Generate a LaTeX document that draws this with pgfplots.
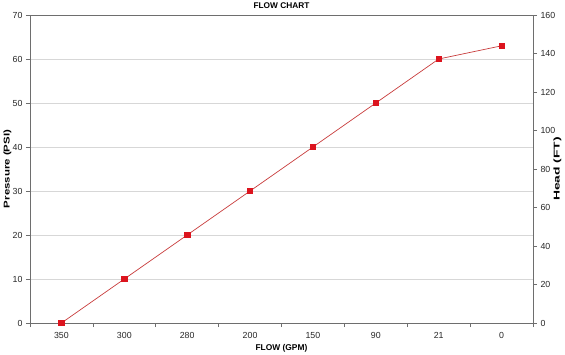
\documentclass[border=0pt]{standalone}
\usepackage{graphicx}
\usepackage{pgfplots}
\pgfplotsset{compat=1.18}
\usepackage{fontspec}
\setmainfont{Liberation Sans}
\definecolor{axisgray}{RGB}{110,110,110}
\definecolor{gridgray}{RGB}{215,215,215}
\definecolor{linered}{RGB}{200,60,60}
\definecolor{markred}{RGB}{220,20,30}
\begin{document}
\begin{tikzpicture}
\begin{axis}[
  at={(0,0)}, anchor=south west,
  scale only axis, width=503pt, height=308pt,
  xmin=-0.5, xmax=7.5, ymin=0, ymax=70,
  axis x line*=bottom, axis y line*=left,
  axis line style={axisgray, line width=0.8pt},
  xtick={0,...,7},
  xticklabels={350,300,280,200,150,90,21,0},
  major x tick style={draw=none},
  minor xtick={-0.5,0.5,...,7.5},
  minor x tick style={axisgray, line width=0.6pt},
  minor tick length=4pt,
  ytick={0,10,...,70},
  y tick style={axisgray, line width=0.6pt},
  major tick length=4pt,
  tick align=outside,
  ymajorgrids, grid style={gridgray, line width=0.8pt},
  tick label style={font=\fontsize{8.8}{10}\selectfont, text=black!85},
  xticklabel style={yshift=-1.5pt},
  /pgf/number format/assume math mode=true,
  xlabel={\textbf{FLOW (GPM)}},
  ylabel={\scalebox{1.36}[1]{\textbf{Pressure (PSI)}}},
  label style={font=\fontsize{8.4}{9}\selectfont},
  xlabel style={at={(axis description cs:0.5,0)}, anchor=center, yshift=-25pt},
  ylabel style={at={(axis description cs:0,0.5)}, anchor=south, yshift=15pt},
  clip=false,
]
\draw[axisgray, line width=0.8pt] (axis cs:-0.5,70) -- (axis cs:7.5,70);
\node[font=\fontsize{8.3}{9}\selectfont\bfseries, anchor=base] at (rel axis cs:0.5,1) [yshift=6.5pt] {FLOW CHART};
\addplot[linered, line width=0.7pt, mark=square*, mark size=2.7pt, mark options={fill=markred, draw=markred}]
  coordinates {(0,0) (1,10) (2,20) (3,30) (4,40) (5,50) (6,60) (7,63)};
\end{axis}
\begin{axis}[
  at={(0,0)}, anchor=south west,
  scale only axis, width=503pt, height=308pt,
  xmin=-0.5, xmax=7.5, ymin=0, ymax=160,
  hide x axis,
  axis y line*=right,
  axis line style={axisgray, line width=0.8pt},
  ytick={0,20,...,160},
  y tick style={axisgray, line width=0.6pt},
  major tick length=4pt,
  tick align=outside,
  tick label style={font=\fontsize{8.8}{10}\selectfont, text=black!85},
  /pgf/number format/assume math mode=true,
  ylabel={\scalebox{1.65}[1]{\textbf{Head (FT)}}},
  label style={font=\fontsize{8.4}{9}\selectfont},
  ylabel style={at={(axis description cs:1,0.5)}, anchor=north, yshift=-17pt},
]
\end{axis}
\pgfresetboundingbox
\useasboundingbox (-30pt,-31pt) rectangle (535pt,323pt);
\end{tikzpicture}
\end{document}
